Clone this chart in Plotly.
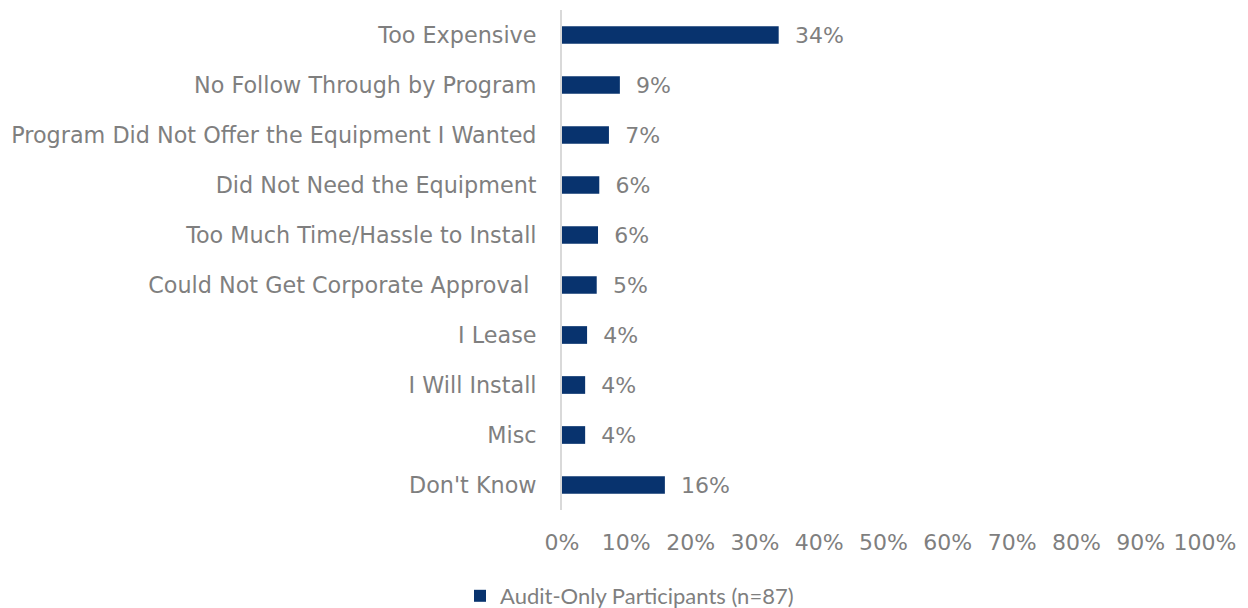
import plotly.graph_objects as go

categories = [
    "Too Expensive",
    "No Follow Through by Program",
    "Program Did Not Offer the Equipment I Wanted",
    "Did Not Need the Equipment",
    "Too Much Time/Hassle to Install",
    "Could Not Get Corporate Approval\u00a0",
    "I Lease",
    "I Will Install",
    "Misc",
    "Don't Know",
]
values = [33.7, 9.0, 7.3, 5.8, 5.6, 5.4, 3.9, 3.6, 3.6, 16.0]
labels = ["34%", "9%", "7%", "6%", "6%", "5%", "4%", "4%", "4%", "16%"]
series_name = "Audit-Only Participants (n=87)"
x_ticks = list(range(0, 101, 10))
x_tick_labels = [f"{v}%" for v in x_ticks]

BAR = "#08336E"
GRAY = "#7F7F7F"
FONT = "DejaVu Sans"

fig = go.Figure()
fig.add_trace(go.Bar(
    y=categories,
    x=values,
    orientation="h",
    name=series_name,
    marker=dict(color=BAR, line=dict(width=0)),
    text=["\u2002\u200a" + t for t in labels],
    textposition="outside",
    constraintext="none",
    textfont=dict(family=FONT, size=22, color=GRAY),
    cliponaxis=False,
))

# page has an 8px body margin, so the figure is 1240x600
fig.update_layout(
    width=1240,
    height=600,
    margin=dict(l=554, r=43, t=2, b=98, autoexpand=False),
    plot_bgcolor="white",
    paper_bgcolor="white",
    bargap=0.646,
    showlegend=True,
    legend=dict(
        orientation="h",
        x=0.105, xanchor="center",
        yref="container", y=12 / 600, yanchor="middle",
        font=dict(family="Lato", size=22, color=GRAY),
        itemwidth=30,
    ),
    xaxis=dict(
        range=[0, 100],
        tickvals=x_ticks,
        ticktext=x_tick_labels,
        showgrid=False,
        zeroline=False,
        showline=False,
        automargin=False,
        tickfont=dict(family=FONT, size=22, color=GRAY),
        ticklabelstandoff=17,
        fixedrange=True,
    ),
    yaxis=dict(
        autorange="reversed",
        showgrid=False,
        showline=True,
        automargin=False,
        linecolor="#D9D9D9",
        linewidth=2,
        tickfont=dict(family=FONT, size=22.3, color=GRAY),
        ticklabelstandoff=19,
    ),
)

fig.write_html("out.html")
